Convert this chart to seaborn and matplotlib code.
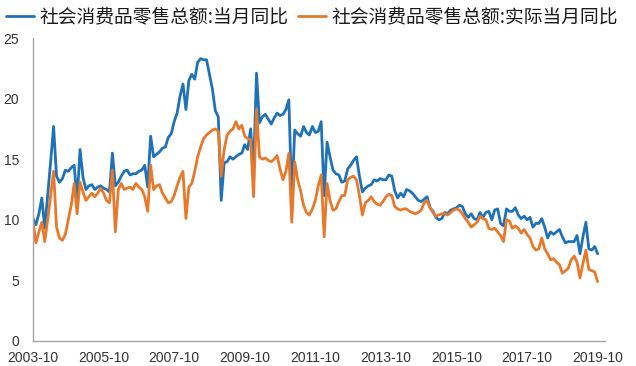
import matplotlib
matplotlib.use('Agg')
import matplotlib.pyplot as plt
import seaborn as sns
import pandas as pd

# monthly YoY growth, 2003-10 .. 2019-10
nominal = [
    10.1, 9.6, 10.5,
    11.8, 9.3, 12.0, 14.8, 17.7, 13.6, 13.1, 13.4, 14.1, 14.0, 14.3, 14.5,
    11.6, 15.8, 13.5, 12.5, 12.8, 12.9, 12.5, 12.7, 12.8, 12.6, 12.5, 12.3,
    15.5, 12.8, 13.1, 13.6, 14.0, 14.1, 13.7, 13.8, 13.8, 14.0, 14.1, 14.5,
    12.7, 16.9, 15.2, 15.4, 15.6, 15.9, 16.0, 16.8, 17.1, 18.1, 18.8, 20.2,
    21.2, 19.1, 21.5, 22.0, 21.6, 23.0, 23.3, 23.2, 23.2, 22.0, 20.8, 19.0,
    18.5, 11.6, 14.7, 14.8, 15.2, 15.0, 15.2, 15.4, 15.5, 16.2, 15.8, 17.5,
    14.1, 22.1, 18.0, 18.5, 18.7, 18.3, 17.9, 18.4, 18.8, 18.6, 18.7, 19.1,
    19.9, 11.6, 17.4, 17.1, 16.9, 17.7, 17.2, 17.0, 17.7, 17.2, 17.3, 18.1,
    12.0, 16.4, 15.2, 14.1, 13.8, 13.7, 13.1, 13.2, 14.2, 14.5, 14.9, 15.2,
    13.6, 12.3, 12.6, 12.8, 12.9, 13.3, 13.2, 13.4, 13.3, 13.3, 13.7, 13.6,
    12.4, 11.8, 12.2, 11.9, 12.5, 12.4, 12.2, 11.9, 11.6, 11.5, 11.7, 11.9,
    11.0, 10.7, 10.2, 10.0, 10.1, 10.6, 10.5, 10.8, 10.9, 11.0, 11.2, 11.1,
    10.5, 10.2, 10.5, 10.1, 10.0, 10.6, 10.2, 10.6, 10.7, 10.0, 10.8, 10.9,
    9.7, 9.5, 10.9, 10.7, 10.7, 11.0, 10.4, 10.1, 10.3, 10.0, 10.2, 9.4,
    9.7, 9.7, 10.1, 9.4, 8.5, 9.0, 8.8, 9.0, 9.2, 8.6, 8.1, 8.2,
    8.2, 8.2, 8.7, 7.2, 8.6, 9.8, 7.6, 7.5, 7.8, 7.2,
]
real = [
    9.8, 8.1, 9.0,
    9.8, 8.2, 10.0, 12.0, 14.0, 9.4, 8.5, 8.3, 8.8, 10.0, 11.2, 13.0,
    10.5, 13.1, 12.3, 11.6, 11.9, 12.2, 11.9, 12.2, 12.6, 12.2, 11.6, 11.4,
    14.1, 9.0, 12.5, 13.0, 12.5, 12.6, 12.7, 12.5, 13.0, 12.7, 12.5, 11.9,
    10.7, 14.5, 12.5, 12.8, 12.9, 12.2, 11.8, 11.4, 11.5, 12.0, 12.8, 13.5,
    14.0, 10.1, 12.7, 13.0, 14.0, 15.2, 16.0, 16.7, 17.0, 17.2, 17.4, 17.5,
    17.3, 13.6, 15.8, 17.0, 17.3, 17.5, 18.1, 17.5, 17.8, 16.9, 16.7, 16.6,
    11.9, 19.1, 15.2, 15.0, 15.1, 14.9, 14.8, 15.0, 15.3, 14.2, 13.3, 14.0,
    15.5, 9.8, 14.8, 13.3, 12.4, 11.2, 10.6, 10.4, 10.9, 11.6, 12.8, 13.7,
    8.6, 13.0, 11.6, 10.8, 10.9, 11.5, 12.0, 12.0, 13.3, 13.5, 13.6, 13.3,
    12.0, 10.4, 11.4, 11.6, 11.9, 11.5, 11.3, 11.2, 11.5, 11.9, 12.1, 12.0,
    11.1, 10.9, 10.8, 10.9, 10.9, 10.7, 10.6, 10.5, 10.6, 10.8, 11.4, 11.6,
    11.0, 10.6, 10.3, 10.4, 10.5, 10.5, 10.4, 10.6, 10.8, 10.9, 10.8, 10.5,
    10.1, 9.8, 9.4, 9.6, 9.8, 10.3, 10.1, 10.0, 9.3, 9.2, 9.3, 9.0,
    8.7, 8.2, 10.0, 9.9, 9.3, 9.5, 9.3, 8.9, 9.2, 8.8, 8.5, 7.8,
    7.5, 7.6, 8.5, 7.6, 7.2, 6.7, 6.8, 6.5, 6.3, 5.6, 5.8, 6.0,
    6.7, 7.0, 6.5, 5.2, 6.4, 7.5, 5.9, 5.8, 5.7, 4.9,
]
series_names = ['社会消费品零售总额:当月同比', '社会消费品零售总额:实际当月同比']
tick_labels = ['2003-10', '2005-10', '2007-10', '2009-10', '2011-10',
               '2013-10', '2015-10', '2017-10', '2019-10']
colors = ['#1f72b8', '#e8792a']

sns.set_style('white')
plt.rcParams['font.family'] = ['Noto Sans CJK SC', 'DejaVu Sans']

df = pd.DataFrame({'idx': range(len(nominal)),
                   series_names[0]: nominal,
                   series_names[1]: real})
long_df = df.melt(id_vars='idx', var_name='series', value_name='yoy')

fig = plt.figure(figsize=(6.36, 3.66), dpi=100)
ax = fig.add_axes([33 / 636, 25 / 366, 572 / 636, 303 / 366])
sns.lineplot(data=long_df, x='idx', y='yoy', hue='series', hue_order=series_names,
             palette=colors, linewidth=2.0, ax=ax, legend=False)

ax.set_xlim(0, 194.5)
ax.set_ylim(0, 25)
ax.set_yticks([0, 5, 10, 15, 20, 25])
ax.set_xticks(range(0, 193, 24))
ax.set_xticklabels(tick_labels)
ax.set_xlabel('')
ax.set_ylabel('')
for side in ['top', 'right']:
    ax.spines[side].set_visible(False)
for side in ['left', 'bottom']:
    ax.spines[side].set_color('#a6a6a6')
    ax.spines[side].set_linewidth(1.0)
ax.tick_params(axis='both', colors='#a6a6a6', labelcolor='#333333',
               length=4, width=1, labelsize=10)
ax.tick_params(axis='y', direction='out', pad=6)
for lbl in ax.get_xticklabels() + ax.get_yticklabels():
    lbl.set_family(['Liberation Sans', 'DejaVu Sans'])

fig.legend(handles=ax.lines[:2], labels=series_names, loc='upper left',
           bbox_to_anchor=(0.002, 0.995), ncol=2, frameon=False,
           prop={'size': 13.5, 'weight': 'medium'},
           handlelength=1.5, handletextpad=0.3, columnspacing=0.5,
           borderpad=0.25, borderaxespad=0.0, labelcolor='#1a1a1a')

fig.savefig('out.png', dpi=100)
